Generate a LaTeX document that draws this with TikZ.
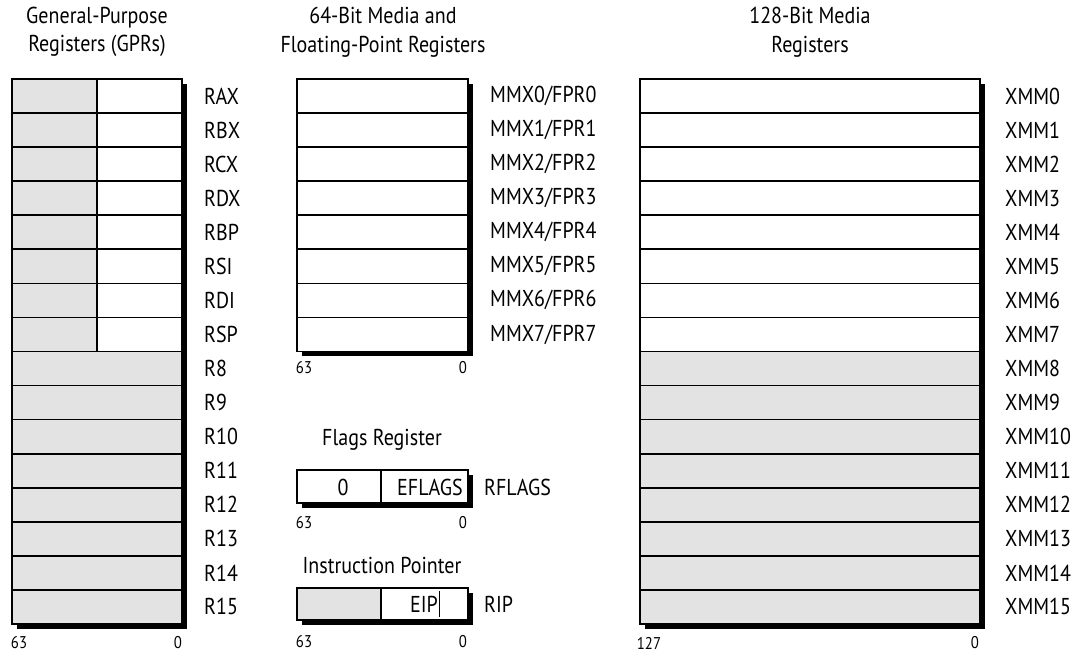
\documentclass[tikz,border=0pt]{standalone}
\usepackage{fontspec}
\setmainfont{PT Sans}[FakeStretch=0.87]
\begin{document}
\begin{tikzpicture}[x=1pt,y=-1pt,
  reg/.style={draw=black,line width=1.7pt},
  grayreg/.style={reg,fill=black!11},
  whitereg/.style={reg,fill=white},
  shadow/.style={fill=black},
  lbl/.style={anchor=west,inner sep=0pt,font=\fontsize{23}{24}\selectfont},
  head/.style={align=center,inner sep=0pt,font=\fontsize{23}{28.5}\selectfont},
  bitno/.style={inner sep=0pt,font=\fontsize{17}{17}\selectfont},
  txt/.style={inner sep=0pt,font=\fontsize{23}{24}\selectfont}]
\useasboundingbox (0,0) rectangle (1072,654);
\def\rh{34.06}
% headings
\node[head] (h1) at (97,32) {General-Purpose\\Registers (GPRs)};
\node[head] (h2) at (383,32) {64-Bit Media and\\Floating-Point Registers};
\node[head] (h3) at (810,32) {128-Bit Media\\Registers};
% ---------- GPRs ----------
\fill[shadow] (17,84) rectangle (187,629);
\foreach \n [count=\i from 0] in {RAX,RBX,RCX,RDX,RBP,RSI,RDI,RSP} {
  \draw[grayreg] (12,79+\rh*\i) rectangle (97,79+\rh*\i+\rh);
  \draw[whitereg] (97,79+\rh*\i) rectangle (182,79+\rh*\i+\rh);
  \node[lbl] (g\i) at (204,79+\rh*\i+\rh/2) {\n};
}
\foreach \n [count=\i from 8] in {R8,R9,R10,R11,R12,R13,R14,R15} {
  \draw[grayreg] (12,79+\rh*\i) rectangle (182,79+\rh*\i+\rh);
  \node[lbl] (g\i) at (204,79+\rh*\i+\rh/2) {\n};
}
\node[bitno] (g63) at (19,643) {63};
\node[bitno] (g0) at (178,643) {0};
% ---------- MMX ----------
\fill[shadow] (302,84) rectangle (473,356);
\foreach \i in {0,...,7} {
  \draw[whitereg] (297,79+\rh*\i) rectangle (468,79+\rh*\i+\rh);
  \node[lbl] (m\i) at (490,79+\rh*\i+\rh/2) {MMX\i/FPR\i};
}
\node[bitno] (m63) at (304,368) {63};
\node[bitno] (m0) at (463,368) {0};
% ---------- Flags ----------
\node[txt] (fh) at (382,440) {Flags Register};
\fill[shadow] (302,475) rectangle (473,508);
\draw[whitereg] (297,470) rectangle (381,503);
\draw[whitereg] (381,470) rectangle (468,503);
\node[txt] (f0) at (343,487) {0};
\node[txt,anchor=east] (fe) at (463,487) {EFLAGS};
\node[lbl] (fl) at (484,487) {RFLAGS};
\node[bitno] (f63) at (304,523) {63};
\node[bitno] (f00) at (463,523) {0};
% ---------- RIP ----------
\node[txt] (ih) at (382,565) {Instruction Pointer};
\fill[shadow] (302,593) rectangle (473,625);
\draw[grayreg] (297,588) rectangle (381,620);
\draw[whitereg] (381,588) rectangle (468,620);
\node[txt,anchor=east] (ie) at (438,604) {EIP};
\draw[line width=1pt] (439.5,591) -- (439.5,617);
\node[lbl] (il) at (484,604) {RIP};
\node[bitno] (i63) at (304,642) {63};
\node[bitno] (i0) at (463,642) {0};
% ---------- XMM ----------
\fill[shadow] (645,84) rectangle (985,629);
\foreach \i in {0,...,15} {
  \ifnum\i<8
    \draw[whitereg] (640,79+\rh*\i) rectangle (980,79+\rh*\i+\rh);
  \else
    \draw[grayreg] (640,79+\rh*\i) rectangle (980,79+\rh*\i+\rh);
  \fi
  \node[lbl] (x\i) at (1005,79+\rh*\i+\rh/2) {XMM\i};
}
\node[bitno] (x127) at (649,643) {127};
\node[bitno] (x0) at (975,643) {0};
\end{tikzpicture}
\end{document}
